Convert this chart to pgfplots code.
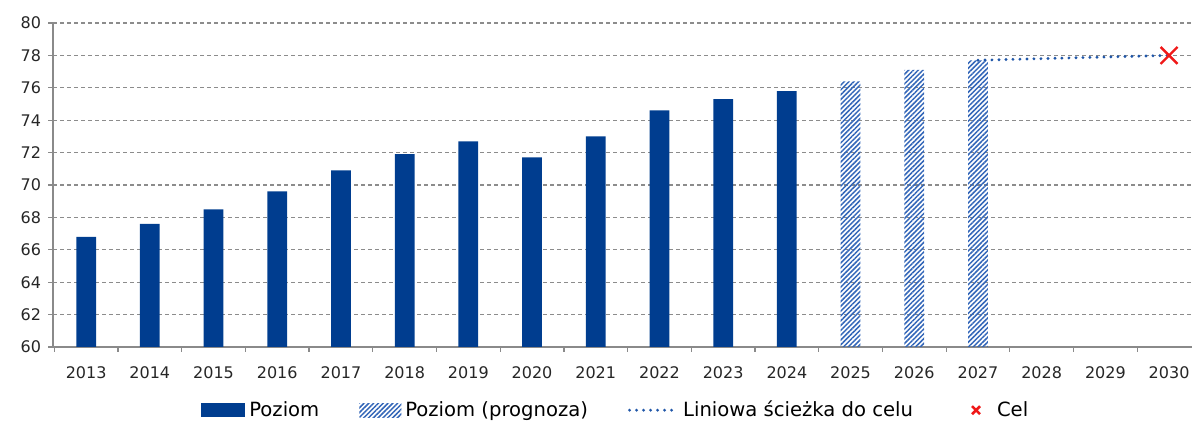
\documentclass[border=0pt]{standalone}
\usepackage{fontspec}
\setmainfont{DejaVu Sans}
\usepackage{pgfplots}
\pgfplotsset{compat=1.18}
\usetikzlibrary{patterns.meta}

\definecolor{barblue}{HTML}{003D8F}
\definecolor{hatchblue}{HTML}{3366B8}
\definecolor{gridgray}{HTML}{8C8C8C}
\definecolor{axisgray}{HTML}{8A8A8A}
\definecolor{celred}{HTML}{F01818}

\begin{document}
\begin{tikzpicture}
\begin{axis}[
    name=ax,
    scale only axis,
    width=569.5pt, height=162pt,
    xmin=-0.52, xmax=17.36,
    ymin=60, ymax=80,
    ytick={60,62,...,80},
    xtick={0,...,17},
    xticklabels={2013,2014,2015,2016,2017,2018,2019,2020,2021,2022,2023,2024,2025,2026,2027,2028,2029,2030},
    minor xtick={-0.5,0.5,...,17.5},
    axis x line*=bottom, axis y line*=left,
    axis line style={axisgray, line width=0.6pt, -},
    ymajorgrids,
    major grid style={gridgray, dash pattern=on 2pt off 1.5pt, line width=0.6pt},
    tick align=outside,
    major tick length=2.5pt, minor tick length=2.5pt,
    tick style={axisgray, line width=0.6pt},
    major x tick style={draw=none},
    ticklabel style={font=\fontsize{8}{9}\selectfont, text=black!85},
    /pgf/number format/assume math mode=true,
    xticklabel style={yshift=-4pt},
    legend columns=4,
    legend cell align=left,
    legend style={at={(0.495,-0.195)}, anchor=center, draw=none,
        font=\fontsize{9.8}{11}\selectfont,
        /tikz/every even column/.append style={column sep=18pt}},
]
% Poziom
\addplot[ybar, bar width=0.31, bar shift=0pt, fill=barblue, draw=none,
    legend image code/.code={\fill[barblue] (0pt,-3.5pt) rectangle (22pt,3.5pt);}]
    coordinates {(0,66.8) (1,67.6) (2,68.5) (3,69.6) (4,70.9) (5,71.9)
                 (6,72.7) (7,71.7) (8,73.0) (9,74.6) (10,75.3) (11,75.8)};
\addlegendentry{Poziom}
% Poziom (prognoza)
\addplot[ybar, bar width=0.31, bar shift=0pt, draw=none,
    pattern={Lines[angle=45, distance=1.7pt, line width=0.75pt]}, pattern color=hatchblue,
    legend image code/.code={\fill[pattern={Lines[angle=45, distance=1.7pt, line width=0.75pt]}, pattern color=hatchblue] (0pt,-3.5pt) rectangle (21pt,3.5pt);}]
    coordinates {(12,76.4) (13,77.1) (14,77.7)};
\addlegendentry{Poziom (prognoza)}
% Liniowa sciezka do celu
\addplot[hatchblue!60!barblue, line width=1.6pt, line cap=round, dash pattern=on 0pt off 3.5pt,
    legend image code/.code={\draw[hatchblue!60!barblue, line width=1.6pt, line cap=round, dash pattern=on 0pt off 3.5pt] (0pt,0pt) -- (24pt,0pt);}]
    coordinates {(14,77.7) (17,78.0)};
\addlegendentry{Liniowa ścieżka do celu}
% Cel
\addplot[only marks, mark=x, mark size=6pt, celred, line width=1.2pt,
    legend image code/.code={\path[draw=none] (0pt,0pt) -- (20pt,0pt);
        \draw[celred, line width=1.3pt] (9.5pt,-2pt) -- (13.5pt,2pt) (9.5pt,2pt) -- (13.5pt,-2pt);}]
    coordinates {(17,78.0)};
\addlegendentry{Cel}
\end{axis}
\pgfresetboundingbox
\path[use as bounding box] ([xshift=-26.5pt,yshift=-37pt]ax.south west) rectangle ([yshift=11.5pt]ax.north east);
\end{tikzpicture}
\end{document}
